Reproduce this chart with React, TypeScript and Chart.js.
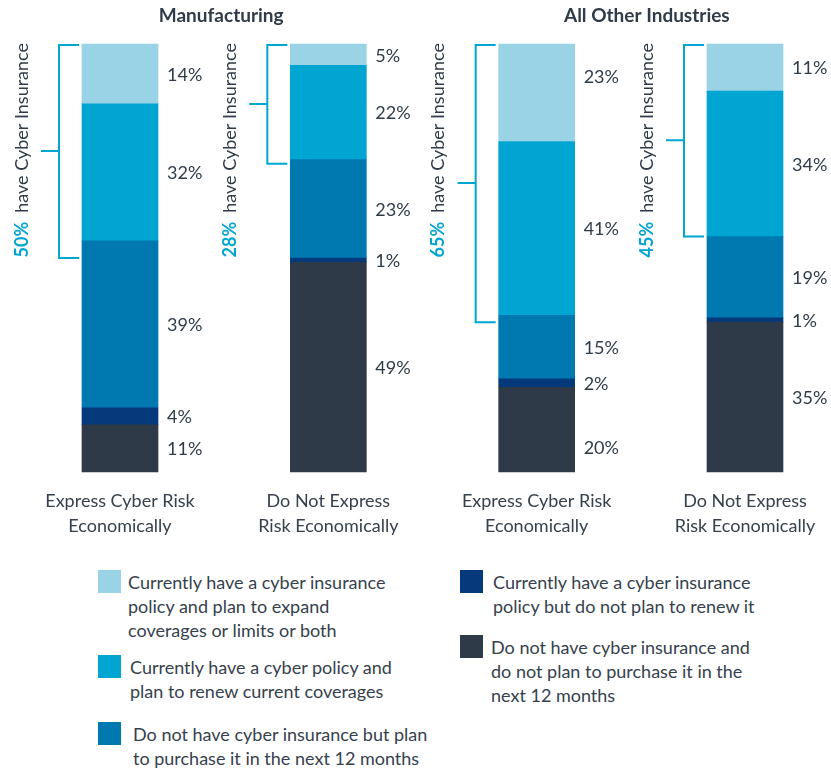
import React, { useEffect, useRef } from 'react';
import { Chart, registerables } from 'chart.js';

Chart.register(...registerables);

// ---- data ----
const categories: string[][] = [
  ['Express Cyber Risk', 'Economically'],
  ['Do Not Express', 'Risk Economically'],
  ['Express Cyber Risk', 'Economically'],
  ['Do Not Express', 'Risk Economically'],
];
const panelTitles = ['Manufacturing', 'All Other Industries'];
const panelOfBar = [0, 0, 1, 1];

// series (percent), one value per bar
const expandCoverage = [14, 5, 23, 11];
const renewCoverage = [32, 22, 41, 34];
const planToPurchase = [39, 23, 15, 19];
const notRenew = [4, 1, 2, 1];
const noPlan = [11, 49, 20, 35];
const haveCyberInsurance = [50, 28, 65, 45];

const seriesNames = [
  'Currently have a cyber insurance\npolicy and plan to expand\ncoverages or limits or both',
  'Currently have a cyber policy and\nplan to renew current coverages',
  'Do not have cyber insurance but plan\nto purchase it in the next 12 months',
  'Currently have a cyber insurance\npolicy but do not plan to renew it',
  'Do not have cyber insurance and\ndo not plan to purchase it in the\nnext 12 months',
];
const seriesValues = [expandCoverage, renewCoverage, planToPurchase, notRenew, noPlan];
const seriesColors = ['#9ad3e6', '#00a5d1', '#0079b0', '#043a7b', '#2e3a47'];

// stacking order bottom -> top
const stackOrder = [4, 3, 2, 1, 0];

// style: small vertical nudges of a few value labels ("bar-series" -> px)
const labelNudge: Record<string, number> = { '2-0': -17, '2-4': 18 };

const TEXT = '#2f3b48';
const ACCENT = '#00a5d1';
const FONT = 'Lato, "Open Sans", sans-serif';

const overlayPlugin = {
  id: 'overlay',
  afterDatasetsDraw(chart: any) {
    const ctx: CanvasRenderingContext2D = chart.ctx;
    const yScale = chart.scales.y;
    const nDs = chart.data.datasets.length;
    const centers: number[] = [];
    ctx.save();
    categories.forEach((cat, i) => {
      const el0 = chart.getDatasetMeta(0).data[i];
      const cx = el0.x;
      const half = el0.width / 2;
      const left = cx - half;
      const right = cx + half;
      centers.push(cx);

      // value labels
      ctx.font = `18px ${FONT}`;
      ctx.fillStyle = TEXT;
      ctx.textAlign = 'left';
      ctx.textBaseline = 'middle';
      for (let d = 0; d < nDs; d++) {
        const el = chart.getDatasetMeta(d).data[i];
        const yc = (el.y + el.base) / 2;
        const ds = chart.data.datasets[d] as any;
        const nudge = labelNudge[`${i}-${ds.seriesIndex}`] || 0;
        ctx.fillText(`${ds.rawValues[i]}%`, right + 9, yc + 1 + nudge);
      }

      // x labels
      ctx.font = `18px ${FONT}`;
      ctx.fillStyle = '#36414d';
      ctx.textAlign = 'center';
      cat.forEach((line, li) => {
        ctx.fillText(line, cx, 501 + li * 25);
      });

      // bracket
      const top = yScale.getPixelForValue(100);
      const bot = yScale.getPixelForValue(100 - haveCyberInsurance[i]);
      const vx = left - 23;
      ctx.strokeStyle = ACCENT;
      ctx.lineWidth = 2;
      ctx.beginPath();
      ctx.moveTo(left - 3, top + 1);
      ctx.lineTo(vx, top + 1);
      ctx.lineTo(vx, bot);
      ctx.lineTo(left - 3, bot);
      ctx.moveTo(left - 41, (top + bot) / 2);
      ctx.lineTo(vx, (top + bot) / 2);
      ctx.stroke();

      // rotated caption
      const pct = `${haveCyberInsurance[i]}%`;
      const rest = 'have Cyber Insurance';
      ctx.font = `bold 18px ${FONT}`;
      const w1 = ctx.measureText(pct).width;
      ctx.font = `18px ${FONT}`;
      const w2 = ctx.measureText(rest).width;
      const gap = 9;
      const total = w1 + gap + w2;
      ctx.save();
      ctx.translate(left - 60, top - 1);
      ctx.rotate(-Math.PI / 2);
      ctx.textAlign = 'left';
      ctx.textBaseline = 'middle';
      ctx.font = `bold 18px ${FONT}`;
      ctx.fillStyle = ACCENT;
      ctx.fillText(pct, -total, 0);
      ctx.font = `18px ${FONT}`;
      ctx.fillStyle = TEXT;
      ctx.fillText(rest, -total + w1 + gap, 0);
      ctx.restore();
    });

    // panel titles
    ctx.font = `bold 19px ${FONT}`;
    ctx.fillStyle = TEXT;
    ctx.textAlign = 'center';
    ctx.textBaseline = 'middle';
    panelTitles.forEach((t, p) => {
      const xs = centers.filter((_, i) => panelOfBar[i] === p);
      const mid = xs.reduce((a, b) => a + b, 0) / xs.length;
      ctx.fillText(t, mid + (p === 0 ? -3 : 6), 16);
    });
    ctx.restore();
  },
};

const legendLayout = [
  { series: 0, sx: 98, sy: 570, tx: 128 },
  { series: 1, sx: 98, sy: 655, tx: 130 },
  { series: 2, sx: 98, sy: 722, tx: 133 },
  { series: 3, sx: 460, sy: 570, tx: 493 },
  { series: 4, sx: 460, sy: 635, tx: 491 },
];

export default function App() {
  const canvasRef = useRef<HTMLCanvasElement | null>(null);

  useEffect(() => {
    if (!canvasRef.current) return;
    const totals = categories.map((_, i) =>
      seriesValues.reduce((s, arr) => s + arr[i], 0)
    );
    const datasets = stackOrder.map((si) => ({
      label: seriesNames[si].replace(/\n/g, ' '),
      data: seriesValues[si].map((v, i) => (v / totals[i]) * 100),
      rawValues: seriesValues[si],
      seriesIndex: si,
      backgroundColor: seriesColors[si],
      borderWidth: 0,
      barThickness: 76,
      clip: false as any,
    }));
    const chart = new Chart(canvasRef.current, {
      type: 'bar',
      data: {
        labels: categories.map((c) => c.join(' ')),
        datasets: datasets as any,
      },
      options: {
        responsive: false,
        animation: false,
        layout: { padding: { top: 44, bottom: 73, left: 120, right: 86 } },
        plugins: {
          legend: { display: false },
          tooltip: { enabled: false },
        },
        scales: {
          x: { type: 'category', stacked: true, display: false, offset: false },
          y: { stacked: true, display: false, min: 0, max: 100 },
        },
      },
      plugins: [overlayPlugin],
    });
    return () => chart.destroy();
  }, []);

  return (
    <div
      style={{
        position: 'absolute',
        left: 0,
        top: 0,
        width: 831,
        height: 769,
        background: '#ffffff',
        fontFamily: FONT,
        overflow: 'hidden',
      }}
    >
      <canvas
        ref={canvasRef}
        width={831}
        height={545}
        style={{ position: 'absolute', left: 0, top: 0, width: 831, height: 545 }}
      />
      {legendLayout.map((l) => (
        <React.Fragment key={l.series}>
          <div
            style={{
              position: 'absolute',
              left: l.sx,
              top: l.sy,
              width: 23,
              height: 23,
              background: seriesColors[l.series],
            }}
          />
          <div
            style={{
              position: 'absolute',
              left: l.tx,
              top: l.sy,
              fontSize: 18,
              lineHeight: '24px',
              color: '#36414d',
              whiteSpace: 'pre-line',
            }}
          >
            {seriesNames[l.series]}
          </div>
        </React.Fragment>
      ))}
    </div>
  );
}
